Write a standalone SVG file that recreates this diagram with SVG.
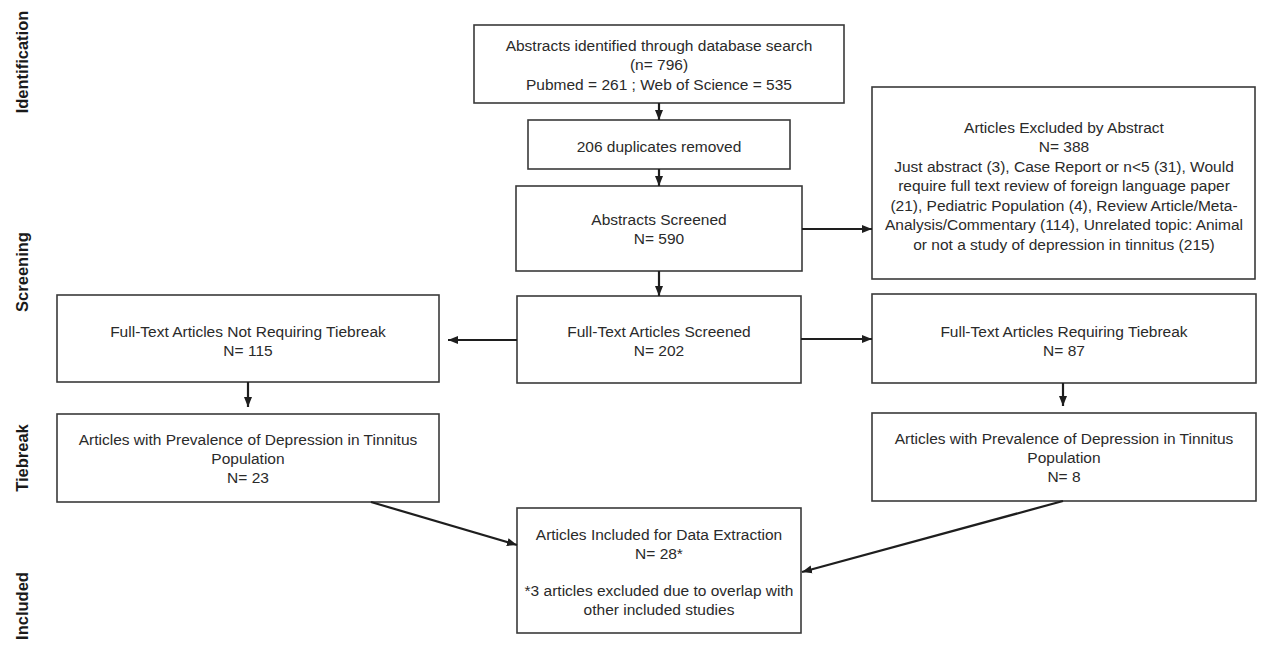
<svg xmlns="http://www.w3.org/2000/svg" width="1261" height="646" viewBox="0 0 1261 646">
<style>
.box{fill:#fff;stroke:#3a3a3a;stroke-width:1.6}
.t{font-family:"Liberation Sans",Arial,sans-serif;font-size:15.5px;fill:#2a2a2a;text-anchor:middle}
.lab{font-family:"Liberation Sans",Arial,sans-serif;font-size:16.5px;font-weight:bold;fill:#1a1a1a;text-anchor:middle}
.c{stroke:#1e1e1e;stroke-width:2.2;fill:none;marker-end:url(#ah)}
</style>
<defs>
<marker id="ah" markerUnits="userSpaceOnUse" markerWidth="10" markerHeight="10" viewBox="0 0 10 10" refX="10" refY="5" orient="auto">
<path d="M0,1 L10,5 L0,9 Z" fill="#1e1e1e"/>
</marker>
</defs>
<rect width="1261" height="646" fill="#fff"/>
<g id="phase-labels">
<text class="lab" transform="translate(28,62) rotate(-90)">Identification</text>
<text class="lab" transform="translate(28,272) rotate(-90)">Screening</text>
<text class="lab" transform="translate(28,458) rotate(-90)">Tiebreak</text>
<text class="lab" transform="translate(28,606) rotate(-90)">Included</text>
</g>
<g id="identified">
<rect class="box" x="474" y="25" width="370" height="78"/>
<text class="t" x="659" y="50.5">Abstracts identified through database search</text>
<text class="t" x="659" y="70">(n= 796)</text>
<text class="t" x="659" y="89.5">Pubmed = 261 ; Web of Science = 535</text>
</g>
<g id="duplicates">
<rect class="box" x="528" y="120" width="262" height="49"/>
<text class="t" x="659" y="151.5">206 duplicates removed</text>
</g>
<g id="abstracts-screened">
<rect class="box" x="516" y="186" width="286" height="85"/>
<text class="t" x="659" y="225">Abstracts Screened</text>
<text class="t" x="659" y="244">N= 590</text>
</g>
<g id="excluded">
<rect class="box" x="872" y="87" width="383" height="192"/>
<text class="t" x="1064" y="132.5">Articles Excluded by Abstract</text>
<text class="t" x="1064" y="152">N= 388</text>
<text class="t" x="1064" y="171.5">Just abstract (3), Case Report or n&lt;5 (31), Would</text>
<text class="t" x="1064" y="191">require full text review of foreign language paper</text>
<text class="t" x="1064" y="210.5">(21), Pediatric Population (4), Review Article/Meta-</text>
<text class="t" x="1064" y="230">Analysis/Commentary (114), Unrelated topic: Animal</text>
<text class="t" x="1064" y="249.5">or not a study of depression in tinnitus (215)</text>
</g>
<g id="fulltext-screened">
<rect class="box" x="517" y="296" width="284" height="87"/>
<text class="t" x="659" y="336.5">Full-Text Articles Screened</text>
<text class="t" x="659" y="355.5">N= 202</text>
</g>
<g id="not-requiring">
<rect class="box" x="57" y="295" width="382" height="87"/>
<text class="t" x="248" y="336.5">Full-Text Articles Not Requiring Tiebreak</text>
<text class="t" x="248" y="355.5">N= 115</text>
</g>
<g id="requiring">
<rect class="box" x="872" y="294" width="384" height="89"/>
<text class="t" x="1064" y="336.5">Full-Text Articles Requiring Tiebreak</text>
<text class="t" x="1064" y="355.5">N= 87</text>
</g>
<g id="prevalence-left">
<rect class="box" x="57" y="414" width="382" height="88"/>
<text class="t" x="248" y="444.5">Articles with Prevalence of Depression in Tinnitus</text>
<text class="t" x="248" y="463.5">Population</text>
<text class="t" x="248" y="482.5">N= 23</text>
</g>
<g id="prevalence-right">
<rect class="box" x="872" y="413" width="384" height="88"/>
<text class="t" x="1064" y="443.5">Articles with Prevalence of Depression in Tinnitus</text>
<text class="t" x="1064" y="462.5">Population</text>
<text class="t" x="1064" y="481.5">N= 8</text>
</g>
<g id="included">
<rect class="box" x="517" y="508" width="284" height="125"/>
<text class="t" x="659" y="539.5">Articles Included for Data Extraction</text>
<text class="t" x="659" y="558.5">N= 28*</text>
<text class="t" x="659" y="595.5">*3 articles excluded due to overlap with</text>
<text class="t" x="659" y="614.5">other included studies</text>
</g>
<g id="connectors">
<line class="c" x1="659" y1="103" x2="659" y2="120"/>
<line class="c" x1="659" y1="169" x2="659" y2="186"/>
<line class="c" x1="659" y1="271" x2="659" y2="296"/>
<line class="c" x1="802" y1="229" x2="872" y2="229"/>
<line class="c" x1="517" y1="340" x2="448" y2="340"/>
<line class="c" x1="801" y1="339" x2="872" y2="339"/>
<line class="c" x1="248" y1="382" x2="248" y2="407"/>
<line class="c" x1="1063" y1="383" x2="1063" y2="406"/>
<line class="c" x1="371" y1="502" x2="517" y2="545"/>
<line class="c" x1="1063" y1="501" x2="802" y2="572"/>
</g>
</svg>
